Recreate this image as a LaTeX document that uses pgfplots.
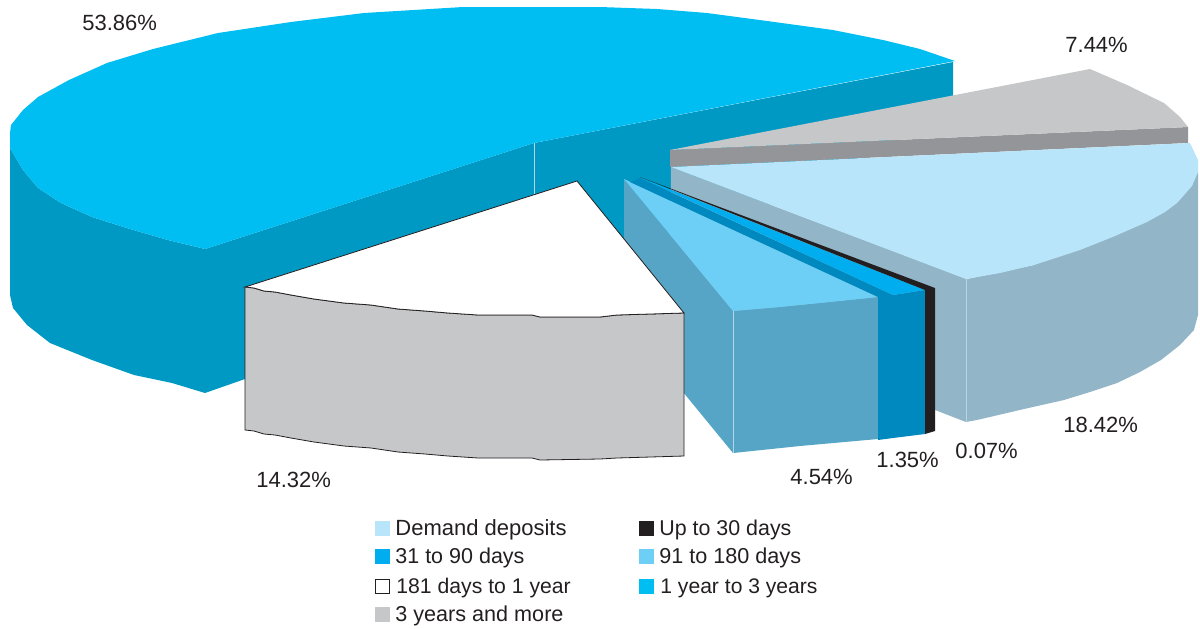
\documentclass[border=0pt]{standalone}
\usepackage{fontspec}
\setmainfont{Liberation Sans}
\usepackage{pgfplots}
\pgfplotsset{compat=1.18}
\definecolor{cTopBig}{HTML}{00BDF2}
\definecolor{cSideBig}{HTML}{0099C3}
\definecolor{cDemand}{HTML}{B9E5FB}
\definecolor{cDemandS}{HTML}{93B5C8}
\definecolor{cGrey}{HTML}{C6C7C9}
\definecolor{cGreyS}{HTML}{939598}
\definecolor{cMid}{HTML}{6DCFF6}
\definecolor{cMidS}{HTML}{56A5C6}
\definecolor{cBright}{HTML}{00AEEF}
\definecolor{cBrightS}{HTML}{0089BF}
\definecolor{cBlack}{HTML}{231F20}
\definecolor{cHair}{HTML}{B5D5E2}
\tikzset{lab/.style={anchor=base west, inner sep=0pt, font=\fontsize{11}{13}\selectfont, text=cBlack},
  fs/.style={font=\fontsize{#1}{13}\selectfont}}
\begin{document}
\begin{tikzpicture}
\begin{axis}[
  scale only axis, width=600pt, height=314pt,
  xmin=0, xmax=1200, ymin=0, ymax=628, y dir=reverse,
  hide axis, clip=false,
  every axis plot/.append style={draw=none, line width=0pt, mark=none},
]
\path (axis cs:0,0) -- (axis cs:1200,628);
% 1 year to 3 years: side
\addplot[fill=cSideBig] coordinates {(10,148)(10,295)(13,308)(27,325)(50,343)(92,360)(134,375)(172,383)(205,393)(245,379)(534,287)(625,270)(670,260)(953,107)(953,62)(534,143)(205,249)(168,240)(130,229)(92,217)(61,203)(38,188)(23,170)} --cycle;
% 1 year to 3 years: top
\addplot[fill=cTopBig] coordinates {(10,133)(10,148)(23,170)(38,188)(61,203)(92,217)(130,229)(168,240)(205,249)(534,143)(955,61)(920,49)(883,40)(833,30)(767,21)(707,13)(657,9)(600,7)(463,7)(364,13)(291,22)(218,33)(153,49)(107,63)(69,80)(38,97)(23,110)(11,125)} --cycle;
\addplot[draw=cHair, line width=0.3pt, forget plot] coordinates {(534,143)(534,195)};
% 3 years and more
\addplot[fill=cGreyS] coordinates {(670,150)(1188,127)(1188,143)(670,167)} --cycle;
\addplot[fill=cGrey] coordinates {(670,150)(1090,69)(1127,85)(1164,103)(1180,117)(1188,127)} --cycle;
% Demand deposits
\addplot[fill=cDemandS] coordinates {(671,167)(967,279)(1034,265)(1198,172)(1198,315)(1194,330)(1180,345)(1161,360)(1140,372)(1117,383)(1090,392)(1064,400)(1024,409)(977,420)(966,422)(935,410)(670,285)} --cycle;
\addplot[fill=cDemand] coordinates {(671,167)(966,279)(1000,273)(1034,265)(1080,250)(1115,236)(1147,222)(1165,212)(1177,203)(1192,186)(1198,172)(1198,160)(1190,143)} --cycle;
\addplot[draw=cHair, line width=0.3pt] coordinates {(966,279)(966,422)};
% 91 to 180 days
\addplot[fill=cMidS] coordinates {(624,179)(733,311)(733,453)(624,320)} --cycle;
\addplot[fill=cMidS] coordinates {(733,311)(780,307)(878,297)(878,439)(800,446)(733,453)} --cycle;
\addplot[fill=cMid] coordinates {(624,179)(733,311)(780,307)(830,302)(878,297)} --cycle;
\addplot[draw=cHair, line width=0.3pt] coordinates {(733,311)(733,453)};
% 31 to 90 days
\addplot[fill=cBrightS] coordinates {(640,178)(893,295)(893,438)(878,440)(878,297)(630,182)} --cycle;
\addplot[fill=cBrightS] coordinates {(893,295)(925,290)(925,434)(893,438)} --cycle;
\addplot[fill=cBright] coordinates {(641,178)(893,295)(925,290)} --cycle;
% Up to 30 days
\addplot[fill=cBlack] coordinates {(640,177)(935,288)(935,431)(925,434)(925,290)} --cycle;
% 181 days to 1 year
\addplot[fill=cGrey, draw=cBlack, line width=0.4pt] coordinates {(245,287)(254,288)(264,291)(275,292)(291,295)(314,299)(344,303)(371,305)(398,309)(425,311)(448,313)(478,315)(532,315)(540,317)(600,317)(617,315)(684,313)(684,456)(617,458)(600,459)(540,460)(532,458)(478,458)(448,456)(425,454)(398,452)(371,448)(344,446)(314,442)(291,438)(275,435)(264,434)(254,431)(245,430)} --cycle;
\addplot[fill=white, draw=cBlack, line width=0.4pt] coordinates {(577,181)(684,313)(617,315)(600,317)(540,317)(532,315)(478,315)(448,313)(425,311)(398,309)(371,305)(344,303)(314,299)(291,295)(275,292)(264,291)(254,288)(245,287)} --cycle;
% value labels
\node[lab] at (axis cs:82,30) {53.86\%};
\node[lab] at (axis cs:1065,52) {7.44\%};
\node[lab] at (axis cs:1063,432) {18.42\%};
\node[lab] at (axis cs:955,458) {0.07\%};
\node[lab] at (axis cs:876,467) {1.35\%};
\node[lab] at (axis cs:790,484) {4.54\%};
\node[lab] at (axis cs:256,487) {14.32\%};
% legend
\addplot[fill=cDemand] coordinates {(375,521)(390,521)(390,536)(375,536)} --cycle;
\addplot[fill=cBlack] coordinates {(639,521)(654,521)(654,536)(639,536)} --cycle;
\addplot[fill=cBright] coordinates {(375,549)(390,549)(390,564)(375,564)} --cycle;
\addplot[fill=cMid] coordinates {(639,549)(654,549)(654,564)(639,564)} --cycle;
\addplot[fill=white, draw=cBlack, line width=0.4pt] coordinates {(375.5,579.5)(389.5,579.5)(389.5,593.5)(375.5,593.5)} --cycle;
\addplot[fill=cTopBig] coordinates {(639,579)(654,579)(654,594)(639,594)} --cycle;
\addplot[fill=cGrey] coordinates {(375,607)(390,607)(390,622)(375,622)} --cycle;
\node[lab] at (axis cs:395,535) {Demand deposits};
\node[lab,fs=10.7] at (axis cs:659,535) {Up to 30 days};
\node[lab,fs=10.75] at (axis cs:395,563) {31 to 90 days};
\node[lab,fs=10.8] at (axis cs:659,563) {91 to 180 days};
\node[lab,fs=10.6] at (axis cs:396,593) {181 days to 1 year};
\node[lab,fs=10.55] at (axis cs:660,593) {1 year to 3 years};
\node[lab,fs=10.8] at (axis cs:395,621) {3 years and more};
\end{axis}
\end{tikzpicture}
\end{document}
